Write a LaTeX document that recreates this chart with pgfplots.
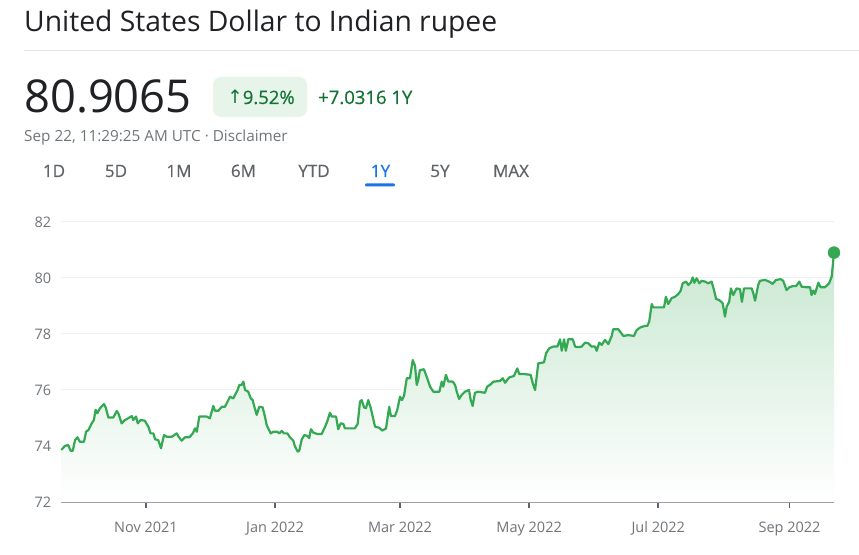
\documentclass[border=0pt]{standalone}
\usepackage{pgfplots}
\pgfplotsset{compat=1.18}
\usepackage{pgfplotstable}
\usepackage{fontspec}
\setmainfont{Open Sans}
\newfontfamily\dejavu{DejaVu Sans}
\newfontfamily\medium[FakeBold=0.5]{Open Sans}

\definecolor{gtext}{HTML}{202124}
\definecolor{ggray}{HTML}{70757A}
\definecolor{gtab}{HTML}{5F6368}
\definecolor{ggreen}{HTML}{34A853}
\definecolor{gdkgreen}{HTML}{137333}
\definecolor{gpill}{HTML}{E6F4EA}
\definecolor{gblue}{HTML}{1A73E8}
\definecolor{ggrid}{HTML}{EEF0F1}
\definecolor{gaxis}{HTML}{9AA0A6}
\definecolor{grule}{HTML}{E3E5E8}

% day (0 = 22 Sep 2021)   rate
\pgfplotstableread{
x y
0 73.86
1.7 74.00
3.2 74.04
4.4 73.83
5.4 73.83
6.5 74.21
7.6 74.31
8.8 74.15
10.7 74.15
11.7 74.51
12.8 74.57
14.4 74.81
15.4 74.93
16.2 75.29
17.0 75.17
18.3 75.35
20.2 75.50
21.1 75.35
22.2 75.02
24.6 75.02
26.2 75.25
27.1 75.14
28.5 74.81
30.1 74.93
31.6 74.99
33.3 75.07
34.0 74.93
35.3 75.05
36.1 74.81
37.5 74.93
39.5 74.90
41.1 74.69
42.2 74.45
43.5 74.45
44.3 74.24
45.8 74.21
47.1 73.92
48.5 74.39
49.8 74.33
52.2 74.33
54.5 74.45
55.6 74.31
56.9 74.19
58.4 74.31
60.5 74.31
62.1 74.45
63.2 74.63
64.0 74.51
65.2 75.05
68.7 75.05
70.2 74.99
71.8 75.43
72.6 75.26
74.2 75.26
75.8 75.40
77.3 75.40
78.9 75.64
79.7 75.76
81.2 75.70
83.3 76.00
84.1 76.18
85.2 76.18
86.0 76.30
86.8 76.00
88.3 75.94
89.5 75.70
90.4 75.64
91.2 75.40
92.3 75.11
93.5 75.40
95.1 75.38
96.2 75.05
97.0 74.75
98.9 74.45
100.1 74.51
102.0 74.51
103.0 74.45
104.1 74.54
105.2 74.45
106.8 74.45
108.0 74.31
109.6 74.19
110.4 73.98
111.7 73.80
112.4 73.83
113.6 74.24
114.8 74.39
116.2 74.36
117.1 74.28
117.9 74.60
119.0 74.48
120.9 74.43
123.0 74.43
124.6 74.69
125.6 74.87
126.9 75.19
127.7 75.05
129.8 75.05
130.8 74.60
132.0 74.81
133.2 74.79
134.0 74.63
138.7 74.63
140.0 74.79
141.1 75.58
141.9 75.64
143.0 75.38
143.9 75.35
145.0 75.64
146.2 75.35
147.1 75.05
148.2 74.69
150.2 74.65
151.6 74.55
153.4 74.63
154.2 75.05
154.9 75.40
155.7 75.07
157.6 75.07
158.7 75.29
160.0 75.76
160.9 75.64
161.9 75.79
163.2 76.42
164.7 76.42
166.0 77.07
167.1 76.86
167.9 76.18
168.6 76.36
169.4 76.71
171.3 76.74
172.6 76.47
174.2 76.12
175.7 75.94
178.6 75.94
179.7 76.30
180.4 76.12
181.7 76.54
182.8 76.30
184.9 76.30
186.0 76.18
186.8 75.94
187.9 75.68
189.1 75.82
190.7 75.94
192.6 76.00
193.4 75.64
194.3 75.43
195.4 75.90
197.0 75.94
200.1 75.90
201.2 76.12
202.8 76.20
204.1 76.30
207.2 76.32
208.5 76.42
209.6 76.26
211.6 76.45
213.8 76.50
215.4 76.77
216.3 76.57
218.6 76.57
221.7 76.54
222.7 76.24
223.8 76.00
225.3 76.95
226.9 76.97
228.0 76.99
229.0 77.31
230.5 77.49
232.4 77.55
234.3 77.55
235.6 77.81
236.4 77.40
237.5 77.81
238.3 77.40
239.5 77.81
241.6 77.81
242.7 77.55
244.2 77.53
245.8 77.55
247.4 77.69
248.9 77.67
250.5 77.55
252.1 77.55
252.9 77.40
254.1 77.69
255.3 77.61
256.8 77.79
258.4 77.64
260.0 77.93
260.7 78.17
263.1 78.17
265.5 77.93
267.8 77.96
270.5 77.93
271.8 78.14
273.4 78.23
275.7 78.29
276.8 78.29
277.7 78.44
278.9 79.07
279.6 78.95
282.0 78.95
284.7 78.95
285.6 79.33
286.7 79.07
288.3 79.28
289.9 79.33
291.5 79.43
292.6 79.55
293.5 79.81
295.1 79.87
296.2 79.75
297.3 79.83
298.3 80.02
299.0 79.83
300.1 79.99
301.4 79.81
302.5 79.90
304.1 79.87
305.6 79.81
307.2 79.87
308.3 79.57
309.3 79.25
310.8 79.21
312.4 79.10
313.5 78.62
314.3 78.98
315.5 79.15
316.3 79.63
317.4 79.39
319.0 79.63
320.6 79.60
321.5 79.15
322.5 79.63
326.1 79.63
326.9 79.45
327.7 79.19
329.2 79.75
330.0 79.90
332.4 79.93
334.4 79.87
336.0 79.79
337.6 79.93
339.8 79.96
341.0 79.90
342.6 79.57
343.9 79.67
345.5 79.71
347.1 79.71
348.6 79.87
349.7 79.69
352.1 79.67
353.7 79.67
354.4 79.39
355.2 79.55
356.0 79.43
357.6 79.83
358.7 79.67
360.7 79.67
362.7 79.81
363.9 80.05
365.0 80.9065
}\usdinr

\begin{document}
\begin{tikzpicture}[x=1pt,y=1pt]
\path[use as bounding box, fill=white] (0,0) rectangle (859,554);

% header
\node[anchor=base west, inner sep=0, text=gtext] at (24,522)
  {\fontsize{28.3}{32}\selectfont United States Dollar to Indian rupee};
\draw[grule, line width=1pt] (24,503) -- (859,503);
\node[anchor=base west, inner sep=0, text=gtext] at (24,441)
  {\fontsize{45.3}{48}\selectfont 80.9065};
\fill[gpill, rounded corners=8pt] (213,437) rectangle (307,477);
\node[anchor=base, inner sep=0, text=gdkgreen] at (261,450)
  {\fontsize{18.5}{20}\selectfont\medium{\dejavu ↑}9.52\%};
\node[anchor=base west, inner sep=0, text=gdkgreen] at (318,450)
  {\fontsize{18.5}{20}\selectfont\medium +7.0316 1Y};
\node[anchor=base west, inner sep=0, text=ggray] at (24,412)
  {\fontsize{15.3}{17}\selectfont Sep 22, 11:29:25 AM UTC · Disclaimer};

% range tabs
\foreach \lab/\cx in {1D/54,5D/116,1M/179,6M/243.5,YTD/314,5Y/440,MAX/511}
  \node[anchor=base, inner sep=0, text=gtab] at (\cx,377)
    {\fontsize{17}{19}\selectfont\medium\lab};
\node[anchor=base, inner sep=0, text=gblue] at (380.5,377)
  {\fontsize{17}{19}\selectfont\medium 1Y};
\fill[gblue, rounded corners=1.2pt] (365,367.5) rectangle (395,370.5);

\begin{axis}[
  at={(61.3pt,52pt)}, anchor=south west,
  scale only axis, width=772.7pt, height=280pt,
  xmin=0, xmax=365, ymin=72, ymax=82,
  clip=false,
  axis line style={draw=none},
  ytick={72,74,...,82},
  xtick={40,101,160,221,282,344},
  xticklabels={Nov 2021,Jan 2022,Mar 2022,May 2022,Jul 2022,Sep 2022},
  ymajorgrids, grid style={ggrid, line width=1pt},
  tick align=outside, major tick length=6pt,
  xtick pos=bottom, ytick pos=left,
  xtick style={gtab, line width=1.6pt},
  ytick style={draw=none},
  ticklabel style={font=\fontsize{14.5}{16}\selectfont, text=ggray, inner sep=0pt},
  xticklabel style={anchor=north, yshift=-13.5pt},
  yticklabel style={anchor=east, xshift=-4pt},
  /pgf/number format/assume math mode=true,
]
\draw[gaxis, line width=1.6pt] (axis cs:0,72) -- (axis cs:365,72);
\addplot[draw=none, top color=ggreen!27, bottom color=white, forget plot]
  table {\usdinr} \closedcycle;
\addplot[ggreen, line width=2.2pt, line join=round, no marks] table {\usdinr};
\addplot[only marks, mark=*, mark size=6pt, ggreen, mark options={draw=none, fill=ggreen}]
  coordinates {(365,80.9065)};
\end{axis}
\end{tikzpicture}
\end{document}
